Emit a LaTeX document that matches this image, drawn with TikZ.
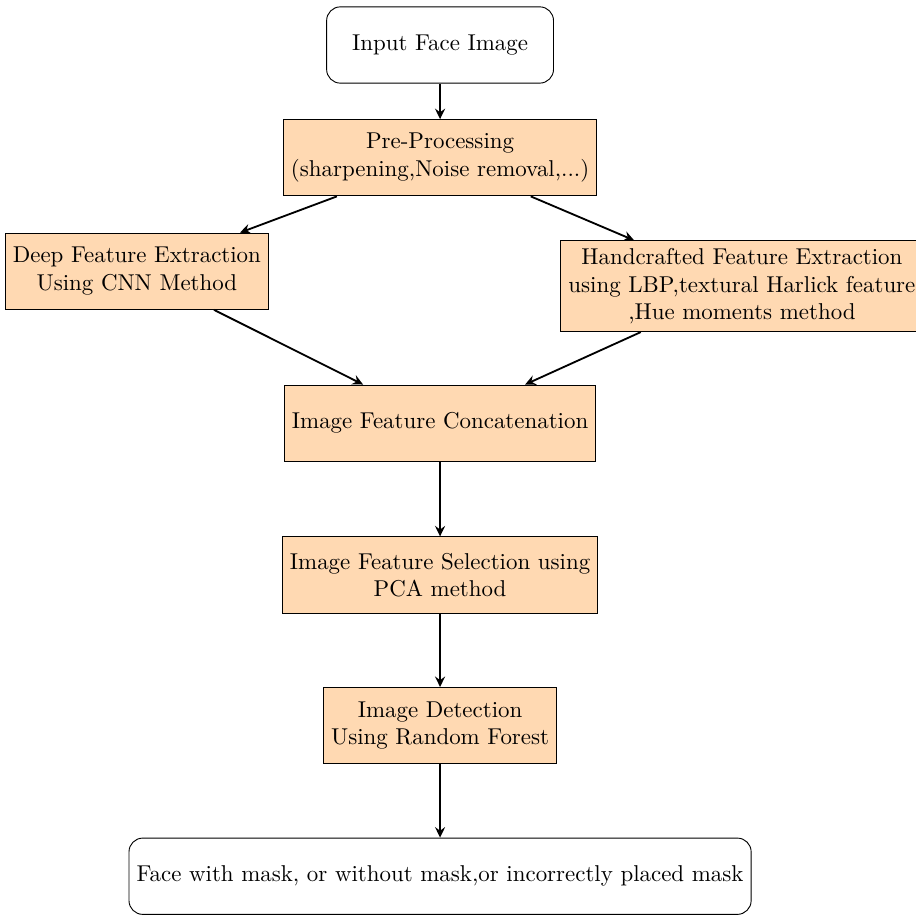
\documentclass[tikz,border=0pt]{standalone}
\usepackage{amsmath}
\usepackage{amssymb}
\usepackage{tikz}
\usetikzlibrary{arrows.meta}

\begin{document}
\begin{tikzpicture}[>={Stealth[length=4.6pt,width=4.4pt,inset=1.6pt]},box/.style={rectangle,draw,fill=orange!30,align=center,minimum width=3.48cm,minimum height=1.17cm},
	endbox/.style={rectangle,rounded corners=6pt,draw,fill=white,align=center,minimum width=3.48cm,minimum height=1.17cm}]
	\useasboundingbox (0,0) rectangle (14.05,-14.05);
	\node[endbox] (A) at (6.75,-0.69) {Input Face Image};
	\node[box] (B) at (6.75,-2.42) {Pre-Processing\\(sharpening,Noise removal,...)};
	\node[box] (C) at (2.10,-4.16) {Deep Feature Extraction\\Using CNN Method};
	\node[box] (D) at (11.38,-4.39) {Handcrafted Feature Extraction\\using LBP,textural Harlick feature\\,Hue moments method};
	\node[box] (E) at (6.75,-6.49) {Image Feature Concatenation};
	\node[box] (F) at (6.75,-8.82) {Image Feature Selection using\\PCA method};
	\node[box] (G) at (6.75,-11.13) {Image Detection\\Using Random Forest};
	\node[endbox] (H) at (6.75,-13.44) {Face with mask, or without mask,or incorrectly placed mask};
	\draw [thick,->] (A) -- (B);
	\draw [thick,->] (B) -- (C);
	\draw [thick,->] (B) -- (D);
	\draw [thick,->] (C) -- (E);
	\draw [thick,->] (D) -- (E);
	\draw [thick,->] (E) -- (F);
	\draw [thick,->] (F) -- (G);
	\draw [thick,->] (G) -- (H);
\end{tikzpicture}
\end{document}
